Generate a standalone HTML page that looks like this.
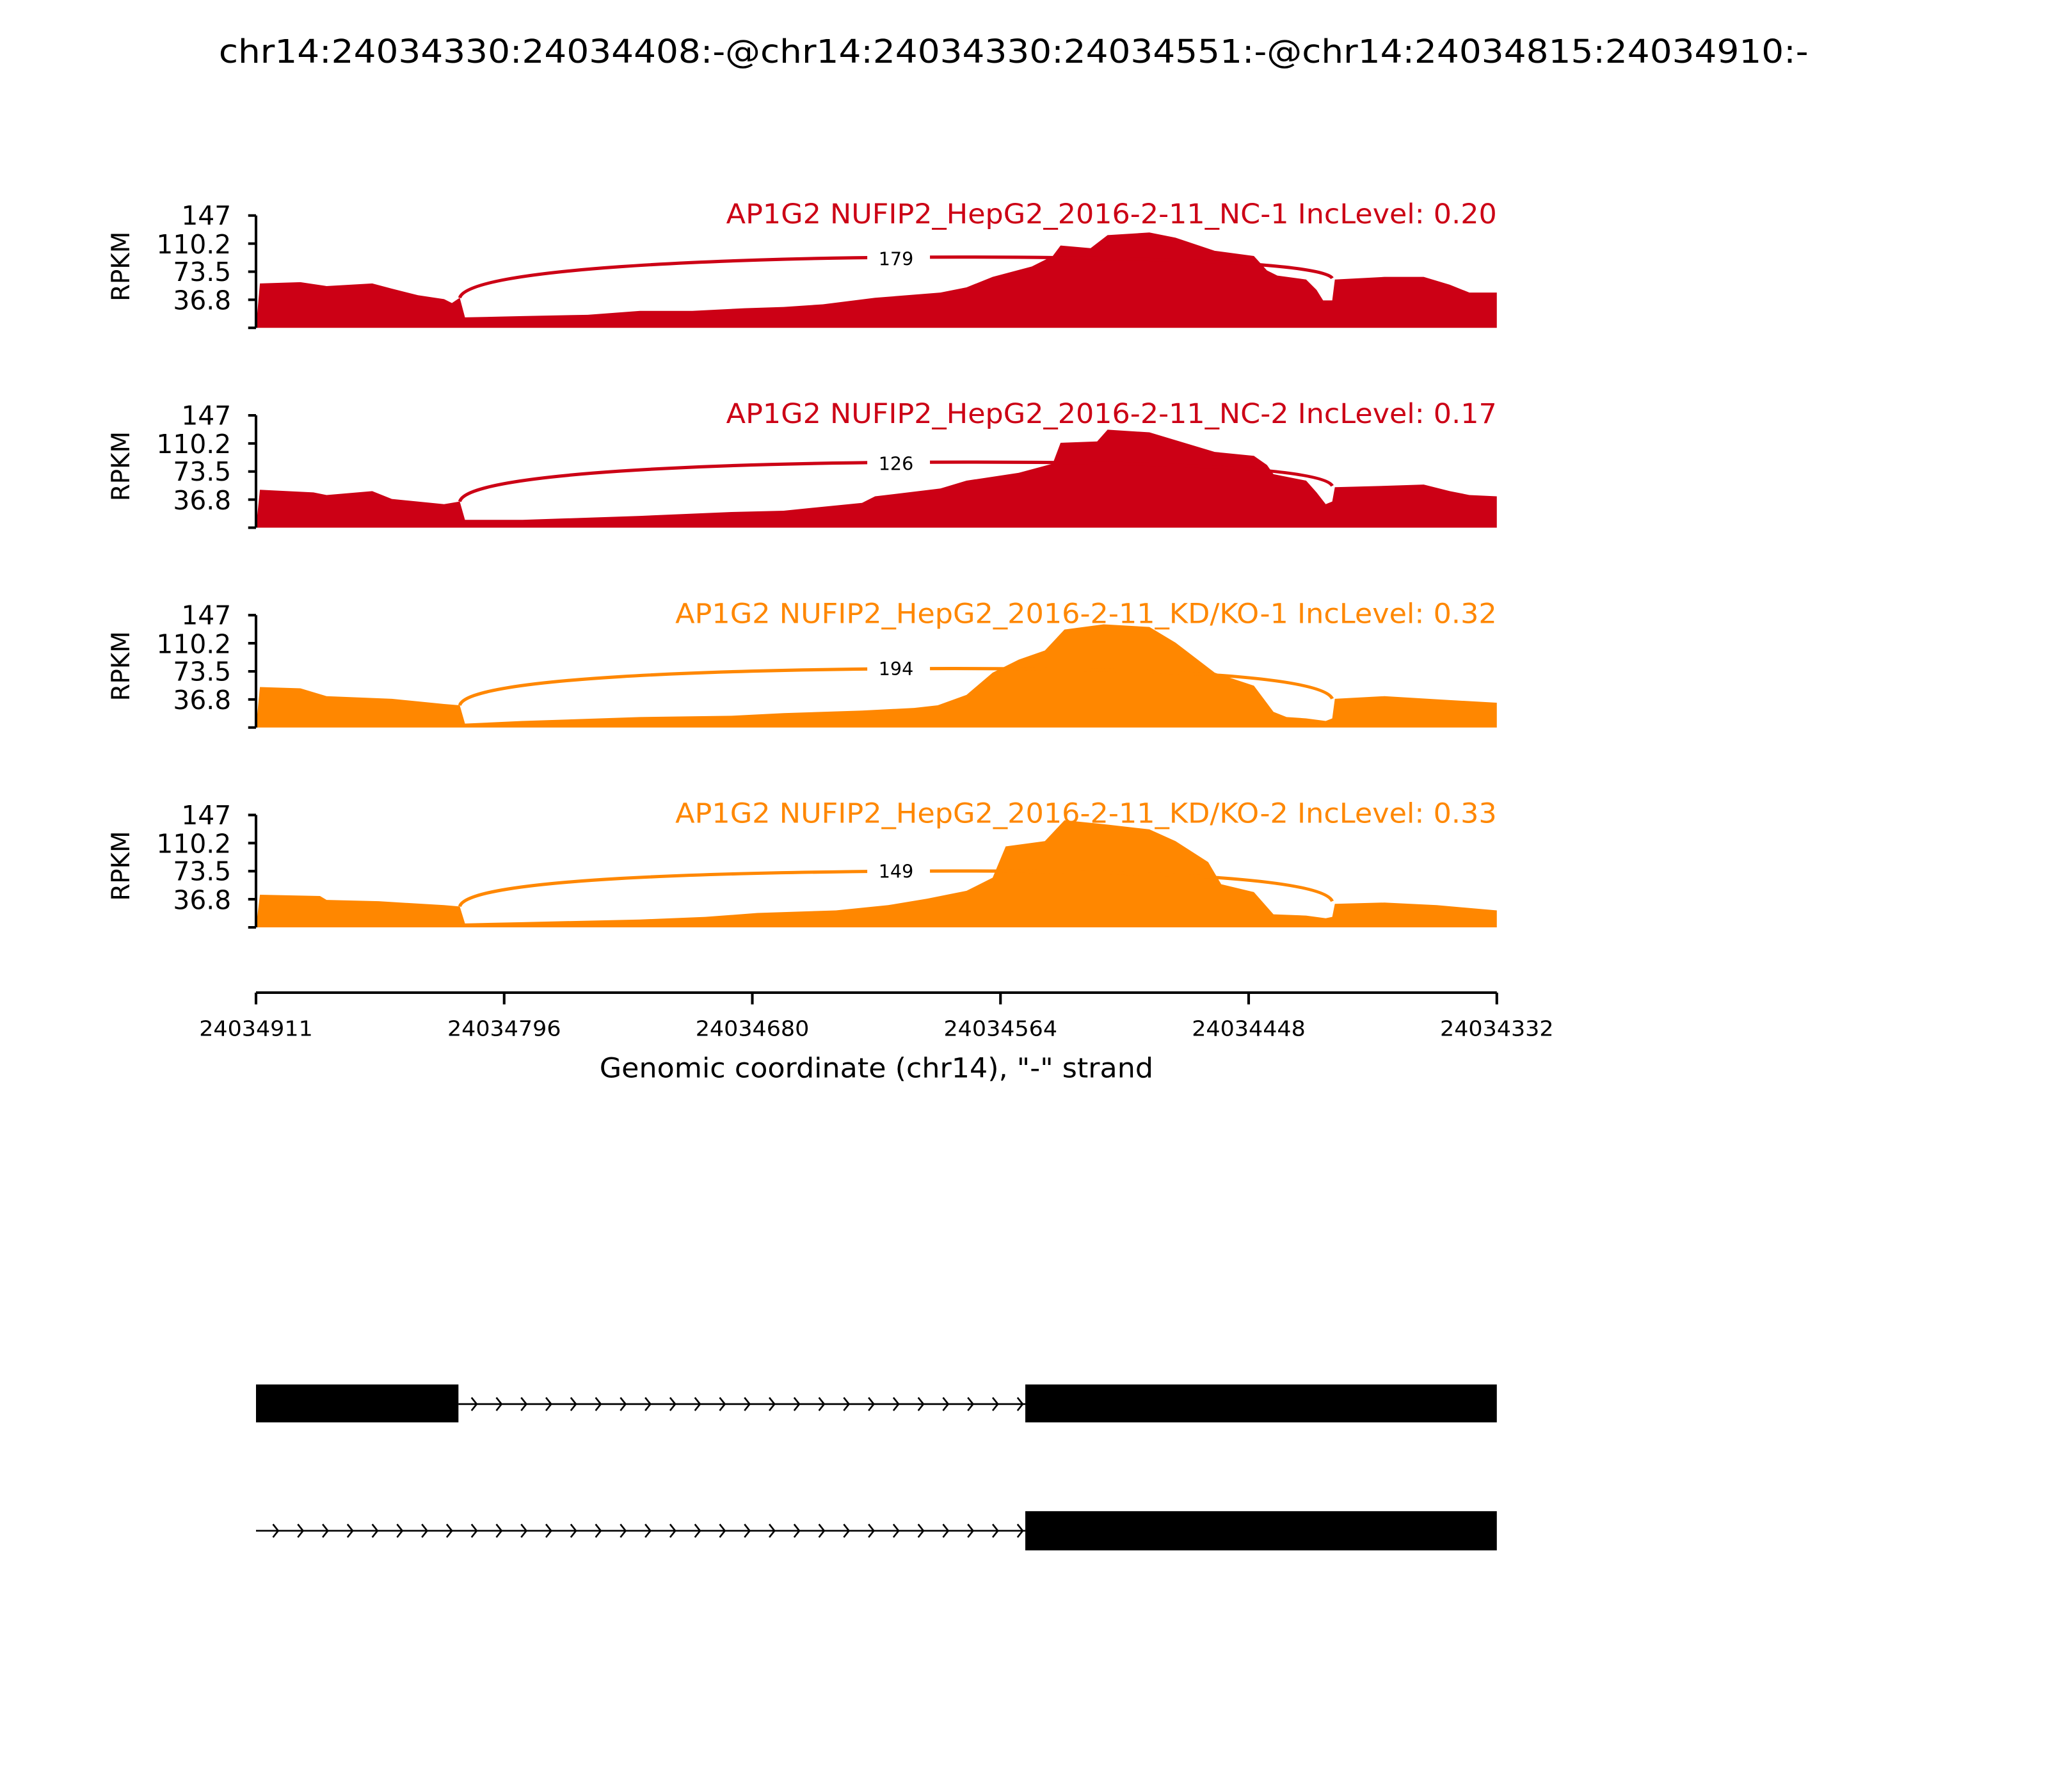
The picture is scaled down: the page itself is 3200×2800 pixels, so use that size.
<!DOCTYPE html>
<html><head><meta charset="utf-8"><style>
html,body{margin:0;padding:0;background:#fff;}
svg{display:block;}
text{font-family:"DejaVu Sans","Liberation Sans",sans-serif;}
</style></head><body>
<svg width="3200" height="2800" viewBox="0 0 1568 1372" xmlns="http://www.w3.org/2000/svg">
<rect width="1568" height="1372" fill="#fff"/>
<text x="776" y="48" font-size="25" text-anchor="middle" textLength="1217" lengthAdjust="spacingAndGlyphs">chr14:24034330:24034408:-@chr14:24034330:24034551:-@chr14:24034815:24034910:-</text>

<!-- Panel 1 -->
<g>
<polygon fill="#cc0015" points="196,251 199,217 230,216 250,219 285,217 300,221 320,226 340,229 346,232 352,228 356,243 400,242 450,241 490,238 530,238 570,236 600,235 630,233 670,228 720,224 740,220 760,212 790,204 806,196 812,188 835,190 848,180 880,178 900,182 930,192 960,196 970,207 978,211 1000,214 1008,222 1013,230 1020,230 1022,214 1060,212 1090,212 1110,218 1125,224 1146,224 1146,251"/>
<path d="M352,228 C358,205 560,198 686,197 C850,196 1012,200 1020,213" fill="none" stroke="#cc0015" stroke-width="2.5"/>
<rect x="664" y="189" width="48" height="18" fill="#fff"/>
<text x="686" y="203" font-size="14" text-anchor="middle">179</text>
<text x="1146" y="171" font-size="21" fill="#cc0015" text-anchor="end" textLength="590" lengthAdjust="spacingAndGlyphs">AP1G2 NUFIP2_HepG2_2016-2-11_NC-1 IncLevel: 0.20</text>
</g>
<!-- Panel 2 -->
<g>
<polygon fill="#cc0015" points="196,404 199,375 240,377 250,379 285,376 300,382 340,386 352,384 356,398 400,398 490,395 560,392 600,391 660,385 670,380 720,374 740,368 780,362 806,355 812,339 840,338 848,329 880,331 910,340 930,346 960,349 970,356 975,363 1000,368 1008,377 1015,386 1020,384 1022,373 1060,372 1090,371 1110,376 1125,379 1146,380 1146,404"/>
<path d="M352,384 C358,361 560,355 686,354 C850,353 1012,356 1020,372" fill="none" stroke="#cc0015" stroke-width="2.5"/>
<rect x="664" y="346" width="48" height="18" fill="#fff"/>
<text x="686" y="360" font-size="14" text-anchor="middle">126</text>
<text x="1146" y="324" font-size="21" fill="#cc0015" text-anchor="end" textLength="590" lengthAdjust="spacingAndGlyphs">AP1G2 NUFIP2_HepG2_2016-2-11_NC-2 IncLevel: 0.17</text>
</g>
<!-- Panel 3 -->
<g>
<polygon fill="#ff8700" points="196,557 199,526 230,527 250,533 300,535 340,539 352,540 356,554 400,552 490,549 560,548 600,546 660,544 700,542 718,540 740,532 760,515 780,505 800,498 815,482 845,478 880,480 900,492 930,515 945,520 960,525 975,545 985,549 1000,550 1015,552 1020,550 1022,535 1060,533 1110,536 1146,538 1146,557"/>
<path d="M352,540 C358,518 560,513 686,512 C850,511 1012,515 1020,535" fill="none" stroke="#ff8700" stroke-width="2.5"/>
<rect x="664" y="503" width="48" height="18" fill="#fff"/>
<text x="686" y="517" font-size="14" text-anchor="middle">194</text>
<text x="1146" y="477" font-size="21" fill="#ff8700" text-anchor="end" textLength="629" lengthAdjust="spacingAndGlyphs">AP1G2 NUFIP2_HepG2_2016-2-11_KD/KO-1 IncLevel: 0.32</text>
</g>
<!-- Panel 4 -->
<g>
<polygon fill="#ff8700" points="196,710 199,685 245,686 250,689 290,690 340,693 352,694 356,707 400,706 490,704 540,702 580,699 640,697 680,693 710,688 740,682 760,672 770,648 800,644 815,628 845,631 880,635 900,644 925,660 935,677 960,683 975,700 1000,701 1015,703 1020,702 1022,692 1060,691 1100,693 1146,697 1146,710"/>
<path d="M352,694 C358,672 560,668 686,667 C850,666 1012,670 1020,690" fill="none" stroke="#ff8700" stroke-width="2.5"/>
<rect x="664" y="658" width="48" height="18" fill="#fff"/>
<text x="686" y="672" font-size="14" text-anchor="middle">149</text>
<text x="1146" y="630" font-size="21" fill="#ff8700" text-anchor="end" textLength="629" lengthAdjust="spacingAndGlyphs">AP1G2 NUFIP2_HepG2_2016-2-11_KD/KO-2 IncLevel: 0.33</text>
</g>

<!-- Y axes -->
<g stroke="#000" stroke-width="2" fill="none">
<path d="M196,165 V251 M190,165 H196 M190,186.5 H196 M190,208 H196 M190,229.5 H196 M190,251 H196"/>
<path d="M196,318 V404 M190,318 H196 M190,339.5 H196 M190,361 H196 M190,382.5 H196 M190,404 H196"/>
<path d="M196,471 V557 M190,471 H196 M190,492.5 H196 M190,514 H196 M190,535.5 H196 M190,557 H196"/>
<path d="M196,624 V710 M190,624 H196 M190,645.5 H196 M190,667 H196 M190,688.5 H196 M190,710 H196"/>
</g>
<g font-size="20" text-anchor="end">
<text x="177" y="172">147</text><text x="177" y="194">110.2</text><text x="177" y="215">73.5</text><text x="177" y="237">36.8</text>
<text x="177" y="325">147</text><text x="177" y="347">110.2</text><text x="177" y="368">73.5</text><text x="177" y="390">36.8</text>
<text x="177" y="478">147</text><text x="177" y="500">110.2</text><text x="177" y="521">73.5</text><text x="177" y="543">36.8</text>
<text x="177" y="631">147</text><text x="177" y="653">110.2</text><text x="177" y="674">73.5</text><text x="177" y="696">36.8</text>
</g>
<g font-size="19" text-anchor="middle">
<text transform="translate(99,204) rotate(-90)">RPKM</text>
<text transform="translate(99,357) rotate(-90)">RPKM</text>
<text transform="translate(99,510) rotate(-90)">RPKM</text>
<text transform="translate(99,663) rotate(-90)">RPKM</text>
</g>

<!-- X axis -->
<g stroke="#000" stroke-width="2" fill="none">
<path d="M196,760 H1146 M196,760 V769 M386,760 V769 M576,760 V769 M766,760 V769 M956,760 V769 M1146,760 V769"/>
</g>
<g font-size="16" text-anchor="middle">
<text x="196" y="793" textLength="87" lengthAdjust="spacingAndGlyphs">24034911</text>
<text x="386" y="793" textLength="87" lengthAdjust="spacingAndGlyphs">24034796</text>
<text x="576" y="793" textLength="87" lengthAdjust="spacingAndGlyphs">24034680</text>
<text x="766" y="793" textLength="87" lengthAdjust="spacingAndGlyphs">24034564</text>
<text x="956" y="793" textLength="87" lengthAdjust="spacingAndGlyphs">24034448</text>
<text x="1146" y="793" textLength="87" lengthAdjust="spacingAndGlyphs">24034332</text>
</g>
<text x="671" y="825" font-size="21" text-anchor="middle" textLength="424" lengthAdjust="spacingAndGlyphs">Genomic coordinate (chr14), "-" strand</text>

<!-- Gene tracks -->
<rect x="196" y="1060" width="155" height="29" fill="#000"/>
<rect x="785" y="1060" width="361" height="29" fill="#000"/>
<line x1="351" y1="1075" x2="785" y2="1075" stroke="#000" stroke-width="1.3"/>
<g stroke="#000" stroke-width="1.3" fill="none">
<path d="M361,1070 l4,5 l-4,5 M380,1070 l4,5 l-4,5 M399,1070 l4,5 l-4,5 M418,1070 l4,5 l-4,5 M437,1070 l4,5 l-4,5 M456,1070 l4,5 l-4,5 M475,1070 l4,5 l-4,5 M494,1070 l4,5 l-4,5 M513,1070 l4,5 l-4,5 M532,1070 l4,5 l-4,5 M551,1070 l4,5 l-4,5 M570,1070 l4,5 l-4,5 M589,1070 l4,5 l-4,5 M608,1070 l4,5 l-4,5 M627,1070 l4,5 l-4,5 M646,1070 l4,5 l-4,5 M665,1070 l4,5 l-4,5 M684,1070 l4,5 l-4,5 M703,1070 l4,5 l-4,5 M722,1070 l4,5 l-4,5 M741,1070 l4,5 l-4,5 M760,1070 l4,5 l-4,5 M779,1070 l4,5 l-4,5"/>
</g>
<rect x="785" y="1157" width="361" height="30" fill="#000"/>
<line x1="196" y1="1172" x2="785" y2="1172" stroke="#000" stroke-width="1.3"/>
<g stroke="#000" stroke-width="1.3" fill="none">
<path d="M209,1167 l4,5 l-4,5 M228,1167 l4,5 l-4,5 M247,1167 l4,5 l-4,5 M266,1167 l4,5 l-4,5 M285,1167 l4,5 l-4,5 M304,1167 l4,5 l-4,5 M323,1167 l4,5 l-4,5 M342,1167 l4,5 l-4,5 M361,1167 l4,5 l-4,5 M380,1167 l4,5 l-4,5 M399,1167 l4,5 l-4,5 M418,1167 l4,5 l-4,5 M437,1167 l4,5 l-4,5 M456,1167 l4,5 l-4,5 M475,1167 l4,5 l-4,5 M494,1167 l4,5 l-4,5 M513,1167 l4,5 l-4,5 M532,1167 l4,5 l-4,5 M551,1167 l4,5 l-4,5 M570,1167 l4,5 l-4,5 M589,1167 l4,5 l-4,5 M608,1167 l4,5 l-4,5 M627,1167 l4,5 l-4,5 M646,1167 l4,5 l-4,5 M665,1167 l4,5 l-4,5 M684,1167 l4,5 l-4,5 M703,1167 l4,5 l-4,5 M722,1167 l4,5 l-4,5 M741,1167 l4,5 l-4,5 M760,1167 l4,5 l-4,5 M779,1167 l4,5 l-4,5"/>
</g>
</svg>
</body></html>
